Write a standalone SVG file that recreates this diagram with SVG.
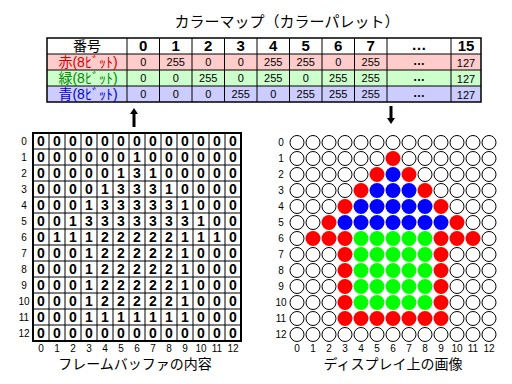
<svg xmlns="http://www.w3.org/2000/svg" width="512" height="384" viewBox="0 0 512 384">
<style>
text{font-family:"Liberation Sans","Noto Sans CJK JP",sans-serif;fill:#000}
.t{font-size:15px;text-anchor:middle}
.hd{font-size:15px;font-weight:bold;text-anchor:middle}
.lb{font-size:14px;text-anchor:middle}
.v{font-size:11px;text-anchor:middle}
.d{font-size:14px;font-weight:bold;text-anchor:middle}
.n{font-size:10px;text-anchor:middle}
.cap{font-size:14px;text-anchor:middle}
.ln{stroke:#000;stroke-width:1;fill:none}
.w{fill:#fff;stroke:#000;stroke-width:1}
.r{fill:#f00}
.g{fill:#0f0}
.b{fill:#00f}
</style>
<g id="title"><text class="t" x="287" y="27">カラーマップ（カラーパレット）</text></g>
<g id="colormap">
<rect x="47" y="38" width="434" height="16" fill="#fff"/>
<rect x="47" y="54" width="434" height="16" fill="#ffcccc"/>
<rect x="47" y="70" width="434" height="16" fill="#ccffcc"/>
<rect x="47" y="86" width="434" height="16" fill="#ccccff"/>
<path class="ln" d="M47 54H481M47 70H481M47 86H481M127 38V102M159.5 38V102M192 38V102M224.5 38V102M257 38V102M289.5 38V102M322 38V102M354.5 38V102M387 38V102M451 38V102"/>
<rect x="47" y="38" width="434" height="64" fill="none" stroke="#000" stroke-width="1.5"/>
<text class="lb" x="87" y="51">番号</text>
<text class="lb" x="88" y="67" fill="#d00000" style="fill:#d00000">赤(8ﾋﾞｯﾄ)</text>
<text class="lb" x="88" y="83" style="fill:#008800">緑(8ﾋﾞｯﾄ)</text>
<text class="lb" x="88" y="99" style="fill:#0000d0">青(8ﾋﾞｯﾄ)</text>
<text class="hd" x="143.25" y="51">0</text>
<text class="hd" x="175.75" y="51">1</text>
<text class="hd" x="208.25" y="51">2</text>
<text class="hd" x="240.75" y="51">3</text>
<text class="hd" x="273.25" y="51">4</text>
<text class="hd" x="305.75" y="51">5</text>
<text class="hd" x="338.25" y="51">6</text>
<text class="hd" x="370.75" y="51">7</text>
<text class="hd" x="419" y="50">…</text>
<text class="hd" x="466" y="51">15</text>
<text class="v" x="143.25" y="66">0</text><text class="v" x="175.75" y="66">255</text><text class="v" x="208.25" y="66">0</text><text class="v" x="240.75" y="66">0</text><text class="v" x="273.25" y="66">255</text><text class="v" x="305.75" y="66">255</text><text class="v" x="338.25" y="66">0</text><text class="v" x="370.75" y="66">255</text><text class="hd" x="419" y="65" style="font-size:12px">…</text><text class="v" x="466" y="67">127</text>
<text class="v" x="143.25" y="82">0</text><text class="v" x="175.75" y="82">0</text><text class="v" x="208.25" y="82">255</text><text class="v" x="240.75" y="82">0</text><text class="v" x="273.25" y="82">255</text><text class="v" x="305.75" y="82">0</text><text class="v" x="338.25" y="82">255</text><text class="v" x="370.75" y="82">255</text><text class="hd" x="419" y="81" style="font-size:12px">…</text><text class="v" x="466" y="83">127</text>
<text class="v" x="143.25" y="98">0</text><text class="v" x="175.75" y="98">0</text><text class="v" x="208.25" y="98">0</text><text class="v" x="240.75" y="98">255</text><text class="v" x="273.25" y="98">0</text><text class="v" x="305.75" y="98">255</text><text class="v" x="338.25" y="98">255</text><text class="v" x="370.75" y="98">255</text><text class="hd" x="419" y="97" style="font-size:12px">…</text><text class="v" x="466" y="99">127</text>
</g>
<g id="connectors">
<path d="M134 127V113" stroke="#000" stroke-width="3"/>
<polygon points="130,114 134,108 138,114" fill="#000"/>
<path d="M391 106V119" stroke="#000" stroke-width="3"/>
<polygon points="387,118 391,124 395,118" fill="#000"/>
</g>
<g id="framebuffer">
<rect x="33" y="133" width="208" height="208" fill="#fff"/>
<path class="ln" d="M33 149H241M33 165H241M33 181H241M33 197H241M33 213H241M33 229H241M33 245H241M33 261H241M33 277H241M33 293H241M33 309H241M33 325H241M49 133V341M65 133V341M81 133V341M97 133V341M113 133V341M129 133V341M145 133V341M161 133V341M177 133V341M193 133V341M209 133V341M225 133V341"/>
<rect x="33" y="133" width="208" height="208" fill="none" stroke="#000" stroke-width="2"/>
<g class="d">
<text class="d" x="41 57 73 89 105 121 137 153 169 185 201 217 233" y="146">0000000000000</text>
<text class="d" x="41 57 73 89 105 121 137 153 169 185 201 217 233" y="162">0000001000000</text>
<text class="d" x="41 57 73 89 105 121 137 153 169 185 201 217 233" y="178">0000013100000</text>
<text class="d" x="41 57 73 89 105 121 137 153 169 185 201 217 233" y="194">0000133310000</text>
<text class="d" x="41 57 73 89 105 121 137 153 169 185 201 217 233" y="210">0001333331000</text>
<text class="d" x="41 57 73 89 105 121 137 153 169 185 201 217 233" y="226">0013333333100</text>
<text class="d" x="41 57 73 89 105 121 137 153 169 185 201 217 233" y="242">0111222221110</text>
<text class="d" x="41 57 73 89 105 121 137 153 169 185 201 217 233" y="258">0001222221000</text>
<text class="d" x="41 57 73 89 105 121 137 153 169 185 201 217 233" y="274">0001222221000</text>
<text class="d" x="41 57 73 89 105 121 137 153 169 185 201 217 233" y="290">0001222221000</text>
<text class="d" x="41 57 73 89 105 121 137 153 169 185 201 217 233" y="306">0001222221000</text>
<text class="d" x="41 57 73 89 105 121 137 153 169 185 201 217 233" y="322">0001111111000</text>
<text class="d" x="41 57 73 89 105 121 137 153 169 185 201 217 233" y="338">0000000000000</text>
</g>
<text class="n" x="24" y="145">0</text><text class="n" x="24" y="161">1</text><text class="n" x="24" y="177">2</text><text class="n" x="24" y="193">3</text><text class="n" x="24" y="209">4</text><text class="n" x="24" y="225">5</text><text class="n" x="24" y="241">6</text><text class="n" x="24" y="257">7</text><text class="n" x="24" y="273">8</text><text class="n" x="24" y="289">9</text><text class="n" x="24" y="305">10</text><text class="n" x="24" y="321">11</text><text class="n" x="24" y="337">12</text>
<text class="n" x="41" y="352">0</text><text class="n" x="57" y="352">1</text><text class="n" x="73" y="352">2</text><text class="n" x="89" y="352">3</text><text class="n" x="105" y="352">4</text><text class="n" x="121" y="352">5</text><text class="n" x="137" y="352">6</text><text class="n" x="153" y="352">7</text><text class="n" x="169" y="352">8</text><text class="n" x="185" y="352">9</text><text class="n" x="201" y="352">10</text><text class="n" x="217" y="352">11</text><text class="n" x="233" y="352">12</text>
<text class="cap" x="135" y="369">フレームバッファの内容</text>
</g>
<g id="display">
<g id="row0"><circle class="w" cx="297" cy="142.5" r="7"/><circle class="w" cx="313" cy="142.5" r="7"/><circle class="w" cx="329" cy="142.5" r="7"/><circle class="w" cx="345" cy="142.5" r="7"/><circle class="w" cx="361" cy="142.5" r="7"/><circle class="w" cx="377" cy="142.5" r="7"/><circle class="w" cx="393" cy="142.5" r="7"/><circle class="w" cx="409" cy="142.5" r="7"/><circle class="w" cx="425" cy="142.5" r="7"/><circle class="w" cx="441" cy="142.5" r="7"/><circle class="w" cx="457" cy="142.5" r="7"/><circle class="w" cx="473" cy="142.5" r="7"/><circle class="w" cx="489" cy="142.5" r="7"/></g>
<g id="row1"><circle class="w" cx="297" cy="158.5" r="7"/><circle class="w" cx="313" cy="158.5" r="7"/><circle class="w" cx="329" cy="158.5" r="7"/><circle class="w" cx="345" cy="158.5" r="7"/><circle class="w" cx="361" cy="158.5" r="7"/><circle class="w" cx="377" cy="158.5" r="7"/><circle class="r" cx="393" cy="158.5" r="7.5"/><circle class="w" cx="409" cy="158.5" r="7"/><circle class="w" cx="425" cy="158.5" r="7"/><circle class="w" cx="441" cy="158.5" r="7"/><circle class="w" cx="457" cy="158.5" r="7"/><circle class="w" cx="473" cy="158.5" r="7"/><circle class="w" cx="489" cy="158.5" r="7"/></g>
<g id="row2"><circle class="w" cx="297" cy="174.5" r="7"/><circle class="w" cx="313" cy="174.5" r="7"/><circle class="w" cx="329" cy="174.5" r="7"/><circle class="w" cx="345" cy="174.5" r="7"/><circle class="w" cx="361" cy="174.5" r="7"/><circle class="r" cx="377" cy="174.5" r="7.5"/><circle class="b" cx="393" cy="174.5" r="7.5"/><circle class="r" cx="409" cy="174.5" r="7.5"/><circle class="w" cx="425" cy="174.5" r="7"/><circle class="w" cx="441" cy="174.5" r="7"/><circle class="w" cx="457" cy="174.5" r="7"/><circle class="w" cx="473" cy="174.5" r="7"/><circle class="w" cx="489" cy="174.5" r="7"/></g>
<g id="row3"><circle class="w" cx="297" cy="190.5" r="7"/><circle class="w" cx="313" cy="190.5" r="7"/><circle class="w" cx="329" cy="190.5" r="7"/><circle class="w" cx="345" cy="190.5" r="7"/><circle class="r" cx="361" cy="190.5" r="7.5"/><circle class="b" cx="377" cy="190.5" r="7.5"/><circle class="b" cx="393" cy="190.5" r="7.5"/><circle class="b" cx="409" cy="190.5" r="7.5"/><circle class="r" cx="425" cy="190.5" r="7.5"/><circle class="w" cx="441" cy="190.5" r="7"/><circle class="w" cx="457" cy="190.5" r="7"/><circle class="w" cx="473" cy="190.5" r="7"/><circle class="w" cx="489" cy="190.5" r="7"/></g>
<g id="row4"><circle class="w" cx="297" cy="206.5" r="7"/><circle class="w" cx="313" cy="206.5" r="7"/><circle class="w" cx="329" cy="206.5" r="7"/><circle class="r" cx="345" cy="206.5" r="7.5"/><circle class="b" cx="361" cy="206.5" r="7.5"/><circle class="b" cx="377" cy="206.5" r="7.5"/><circle class="b" cx="393" cy="206.5" r="7.5"/><circle class="b" cx="409" cy="206.5" r="7.5"/><circle class="b" cx="425" cy="206.5" r="7.5"/><circle class="r" cx="441" cy="206.5" r="7.5"/><circle class="w" cx="457" cy="206.5" r="7"/><circle class="w" cx="473" cy="206.5" r="7"/><circle class="w" cx="489" cy="206.5" r="7"/></g>
<g id="row5"><circle class="w" cx="297" cy="222.5" r="7"/><circle class="w" cx="313" cy="222.5" r="7"/><circle class="r" cx="329" cy="222.5" r="7.5"/><circle class="b" cx="345" cy="222.5" r="7.5"/><circle class="b" cx="361" cy="222.5" r="7.5"/><circle class="b" cx="377" cy="222.5" r="7.5"/><circle class="b" cx="393" cy="222.5" r="7.5"/><circle class="b" cx="409" cy="222.5" r="7.5"/><circle class="b" cx="425" cy="222.5" r="7.5"/><circle class="b" cx="441" cy="222.5" r="7.5"/><circle class="r" cx="457" cy="222.5" r="7.5"/><circle class="w" cx="473" cy="222.5" r="7"/><circle class="w" cx="489" cy="222.5" r="7"/></g>
<g id="row6"><circle class="w" cx="297" cy="238.5" r="7"/><circle class="r" cx="313" cy="238.5" r="7.5"/><circle class="r" cx="329" cy="238.5" r="7.5"/><circle class="r" cx="345" cy="238.5" r="7.5"/><circle class="g" cx="361" cy="238.5" r="7.5"/><circle class="g" cx="377" cy="238.5" r="7.5"/><circle class="g" cx="393" cy="238.5" r="7.5"/><circle class="g" cx="409" cy="238.5" r="7.5"/><circle class="g" cx="425" cy="238.5" r="7.5"/><circle class="r" cx="441" cy="238.5" r="7.5"/><circle class="r" cx="457" cy="238.5" r="7.5"/><circle class="r" cx="473" cy="238.5" r="7.5"/><circle class="w" cx="489" cy="238.5" r="7"/></g>
<g id="row7"><circle class="w" cx="297" cy="254.5" r="7"/><circle class="w" cx="313" cy="254.5" r="7"/><circle class="w" cx="329" cy="254.5" r="7"/><circle class="r" cx="345" cy="254.5" r="7.5"/><circle class="g" cx="361" cy="254.5" r="7.5"/><circle class="g" cx="377" cy="254.5" r="7.5"/><circle class="g" cx="393" cy="254.5" r="7.5"/><circle class="g" cx="409" cy="254.5" r="7.5"/><circle class="g" cx="425" cy="254.5" r="7.5"/><circle class="r" cx="441" cy="254.5" r="7.5"/><circle class="w" cx="457" cy="254.5" r="7"/><circle class="w" cx="473" cy="254.5" r="7"/><circle class="w" cx="489" cy="254.5" r="7"/></g>
<g id="row8"><circle class="w" cx="297" cy="270.5" r="7"/><circle class="w" cx="313" cy="270.5" r="7"/><circle class="w" cx="329" cy="270.5" r="7"/><circle class="r" cx="345" cy="270.5" r="7.5"/><circle class="g" cx="361" cy="270.5" r="7.5"/><circle class="g" cx="377" cy="270.5" r="7.5"/><circle class="g" cx="393" cy="270.5" r="7.5"/><circle class="g" cx="409" cy="270.5" r="7.5"/><circle class="g" cx="425" cy="270.5" r="7.5"/><circle class="r" cx="441" cy="270.5" r="7.5"/><circle class="w" cx="457" cy="270.5" r="7"/><circle class="w" cx="473" cy="270.5" r="7"/><circle class="w" cx="489" cy="270.5" r="7"/></g>
<g id="row9"><circle class="w" cx="297" cy="286.5" r="7"/><circle class="w" cx="313" cy="286.5" r="7"/><circle class="w" cx="329" cy="286.5" r="7"/><circle class="r" cx="345" cy="286.5" r="7.5"/><circle class="g" cx="361" cy="286.5" r="7.5"/><circle class="g" cx="377" cy="286.5" r="7.5"/><circle class="g" cx="393" cy="286.5" r="7.5"/><circle class="g" cx="409" cy="286.5" r="7.5"/><circle class="g" cx="425" cy="286.5" r="7.5"/><circle class="r" cx="441" cy="286.5" r="7.5"/><circle class="w" cx="457" cy="286.5" r="7"/><circle class="w" cx="473" cy="286.5" r="7"/><circle class="w" cx="489" cy="286.5" r="7"/></g>
<g id="row10"><circle class="w" cx="297" cy="302.5" r="7"/><circle class="w" cx="313" cy="302.5" r="7"/><circle class="w" cx="329" cy="302.5" r="7"/><circle class="r" cx="345" cy="302.5" r="7.5"/><circle class="g" cx="361" cy="302.5" r="7.5"/><circle class="g" cx="377" cy="302.5" r="7.5"/><circle class="g" cx="393" cy="302.5" r="7.5"/><circle class="g" cx="409" cy="302.5" r="7.5"/><circle class="g" cx="425" cy="302.5" r="7.5"/><circle class="r" cx="441" cy="302.5" r="7.5"/><circle class="w" cx="457" cy="302.5" r="7"/><circle class="w" cx="473" cy="302.5" r="7"/><circle class="w" cx="489" cy="302.5" r="7"/></g>
<g id="row11"><circle class="w" cx="297" cy="318.5" r="7"/><circle class="w" cx="313" cy="318.5" r="7"/><circle class="w" cx="329" cy="318.5" r="7"/><circle class="r" cx="345" cy="318.5" r="7.5"/><circle class="r" cx="361" cy="318.5" r="7.5"/><circle class="r" cx="377" cy="318.5" r="7.5"/><circle class="r" cx="393" cy="318.5" r="7.5"/><circle class="r" cx="409" cy="318.5" r="7.5"/><circle class="r" cx="425" cy="318.5" r="7.5"/><circle class="r" cx="441" cy="318.5" r="7.5"/><circle class="w" cx="457" cy="318.5" r="7"/><circle class="w" cx="473" cy="318.5" r="7"/><circle class="w" cx="489" cy="318.5" r="7"/></g>
<g id="row12"><circle class="w" cx="297" cy="334.5" r="7"/><circle class="w" cx="313" cy="334.5" r="7"/><circle class="w" cx="329" cy="334.5" r="7"/><circle class="w" cx="345" cy="334.5" r="7"/><circle class="w" cx="361" cy="334.5" r="7"/><circle class="w" cx="377" cy="334.5" r="7"/><circle class="w" cx="393" cy="334.5" r="7"/><circle class="w" cx="409" cy="334.5" r="7"/><circle class="w" cx="425" cy="334.5" r="7"/><circle class="w" cx="441" cy="334.5" r="7"/><circle class="w" cx="457" cy="334.5" r="7"/><circle class="w" cx="473" cy="334.5" r="7"/><circle class="w" cx="489" cy="334.5" r="7"/></g>
<text class="n" x="281" y="146">0</text><text class="n" x="281" y="162">1</text><text class="n" x="281" y="178">2</text><text class="n" x="281" y="194">3</text><text class="n" x="281" y="210">4</text><text class="n" x="281" y="226">5</text><text class="n" x="281" y="242">6</text><text class="n" x="281" y="258">7</text><text class="n" x="281" y="274">8</text><text class="n" x="281" y="290">9</text><text class="n" x="281" y="306">10</text><text class="n" x="281" y="322">11</text><text class="n" x="281" y="338">12</text>
<text class="n" x="297" y="352">0</text><text class="n" x="313" y="352">1</text><text class="n" x="329" y="352">2</text><text class="n" x="345" y="352">3</text><text class="n" x="361" y="352">4</text><text class="n" x="377" y="352">5</text><text class="n" x="393" y="352">6</text><text class="n" x="409" y="352">7</text><text class="n" x="425" y="352">8</text><text class="n" x="441" y="352">9</text><text class="n" x="457" y="352">10</text><text class="n" x="473" y="352">11</text><text class="n" x="489" y="352">12</text>
<text class="cap" x="393" y="369">ディスプレイ上の画像</text>
</g>
</svg>
